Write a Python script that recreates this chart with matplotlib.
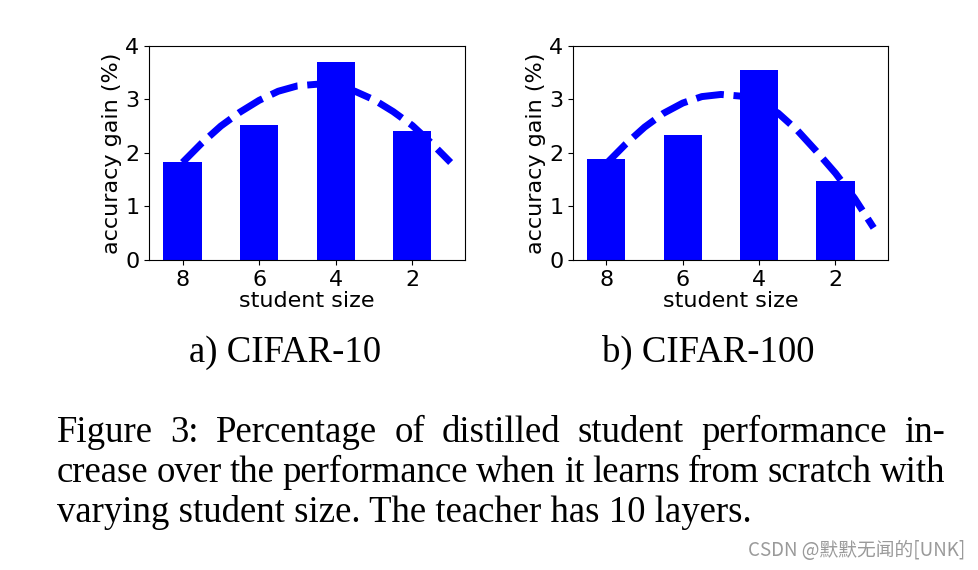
import numpy as np
import matplotlib
matplotlib.use("Agg")
import matplotlib.pyplot as plt

# bar data (student size on x axis, accuracy gain in %)
sizes = ["8", "6", "4", "2"]
gain_c10 = [1.83, 2.52, 3.69, 2.41]
gain_c100 = [1.88, 2.33, 3.55, 1.47]

# dashed trend curves (x in bar-index units)
trend_x = [0, 0.25, 0.5, 0.75, 1, 1.25, 1.5, 1.75, 2, 2.25, 2.5, 2.75, 3, 3.25, 3.5]
trend_c10 = [1.82, 2.18, 2.50, 2.76, 2.98, 3.15, 3.25, 3.28, 3.25, 3.15, 2.99, 2.77, 2.51, 2.18, 1.82]
trend_c100 = [1.80, 2.16, 2.48, 2.74, 2.93, 3.05, 3.09, 3.06, 2.95, 2.74, 2.42, 2.03, 1.62, 1.15, 0.60]

subcaps = ["a) CIFAR-10", "b) CIFAR-100"]
caption = [
    "Figure 3: Percentage of distilled student performance in-",
    "crease over the performance when it learns from scratch with",
    "varying student size. The teacher has 10 layers.",
]
watermark = "CSDN @默默无闻的[UNK]"

W, H = 979, 570
fig = plt.figure(figsize=(W / 100, H / 100), dpi=100)

ax1 = fig.add_axes([149 / W, 1 - 260 / H, 316 / W, 214.3 / H])
ax2 = fig.add_axes([573 / W, 1 - 260 / H, 315 / W, 214.3 / H])

for ax, g, tr in [(ax1, gain_c10, trend_c10), (ax2, gain_c100, trend_c100)]:
    idx = np.arange(len(sizes))
    ax.bar(idx, g, width=0.5, color="blue")
    ax.plot(trend_x, tr, "--", color="blue", lw=5, dashes=(4, 1.4))
    ax.set_xticks(idx)
    ax.set_xticklabels(sizes)
    ax.set_ylim(0, 4)
    ax.set_yticks([0, 1, 2, 3, 4])
    ax.tick_params(labelsize=16)
    ax.set_xlabel("student size", fontsize=16, labelpad=1)
    ax.set_ylabel("accuracy gain (%)", fontsize=16, labelpad=2)

serif = "Liberation Serif"
fig.text(285 / W, 1 - 362 / H, subcaps[0], family=serif, fontsize=26.5, ha="center", va="baseline")
fig.text(708 / W, 1 - 362 / H, subcaps[1], family=serif, fontsize=26.5, ha="center", va="baseline")

# justified caption, word by word
renderer = fig.canvas.get_renderer()
x0, x1 = 57, 945
baselines = [442, 482, 522]
for i, line in enumerate(caption):
    y = 1 - baselines[i] / H
    if i == len(caption) - 1:
        fig.text(x0 / W, y, line, family=serif, fontsize=26.5, va="baseline")
        continue
    words = line.split(" ")
    texts = [fig.text(0, y, w, family=serif, fontsize=26.5, va="baseline") for w in words]
    widths = [t.get_window_extent(renderer).width for t in texts]
    gap = ((x1 - x0) - sum(widths)) / (len(words) - 1)
    x = x0
    for t, w in zip(texts, widths):
        t.set_x(x / W)
        x += w + gap

fig.text(965 / W, 1 - 556 / H, watermark, family=["Noto Sans CJK SC", "DejaVu Sans"],
         fontsize=13.5, color="#9a9a9a", ha="right", va="baseline")

fig.savefig("out.png", dpi=100)
